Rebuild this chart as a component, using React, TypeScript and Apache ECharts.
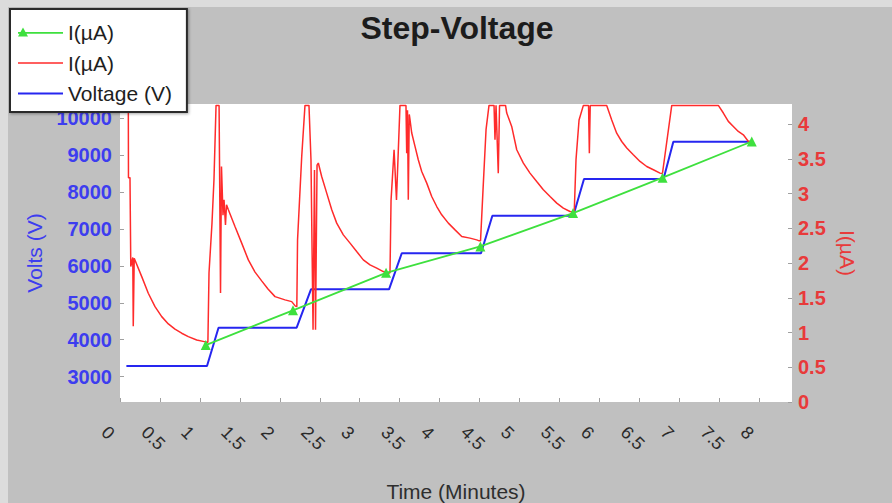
import React, { useEffect, useRef } from "react";
import * as echarts from "echarts";

const timeTicks = [0, 0.5, 1, 1.5, 2, 2.5, 3, 3.5, 4, 4.5, 5, 5.5, 6, 6.5, 7, 7.5, 8];
const voltTicks = [3000, 4000, 5000, 6000, 7000, 8000, 9000, 10000];
const currentTicks = [0, 0.5, 1, 1.5, 2, 2.5, 3, 3.5, 4];

// Voltage (V) step function, [minutes, volts]
const voltagePoints = [
  [0.08, 3290], [1.089, 3290], [1.233, 4326], [2.211, 4326], [2.39, 5365],
  [3.367, 5365], [3.526, 6340], [4.518, 6340], [4.66, 7357], [5.673, 7357],
  [5.807, 8350], [6.802, 8350], [6.925, 9360], [7.89, 9360],
];

// I(µA) sampled at the end of each step (green), [minutes, µA]
const fitPoints = [
  [1.073, 0.82], [2.165, 1.32], [3.33, 1.86], [4.51, 2.24], [5.67, 2.72], [6.79, 3.23], [7.906, 3.75],
];

// I(µA) continuous current (red), [minutes, µA]
const currentPoints = [
  [0.104, 4.27], [0.106, 3.23], [0.125, 3.23], [0.135, 1.95], [0.16, 2.08], [0.166, 1.09], [0.178, 2.07],
  [0.272, 1.805], [0.354, 1.566], [0.438, 1.373], [0.522, 1.229], [0.605, 1.124], [0.688, 1.048],
  [0.772, 0.99], [0.855, 0.941], [0.96, 0.893], [1.055, 0.869], [1.09, 0.86],
  [1.1, 0.86], [1.114, 1.86], [1.151, 2.57], [1.176, 3.2], [1.202, 4.27], [1.24, 4.27], [1.258, 1.57],
  [1.27, 3.39], [1.289, 2.69], [1.302, 2.91], [1.32, 2.55], [1.333, 2.84], [1.355, 2.77],
  [1.439, 2.526], [1.523, 2.287], [1.606, 2.046], [1.69, 1.87], [1.773, 1.744], [1.852, 1.628],
  [1.94, 1.517], [2.065, 1.47], [2.149, 1.445], [2.195, 1.38],
  [2.213, 1.373], [2.222, 2.334], [2.274, 3.53], [2.315, 4.27], [2.365, 4.27], [2.39, 3.49],
  [2.416, 1.04], [2.434, 3.34], [2.447, 1.04], [2.466, 3.41], [2.482, 3.44],
  [2.524, 3.246], [2.587, 3.007], [2.65, 2.767], [2.712, 2.575], [2.795, 2.406], [2.879, 2.287],
  [2.962, 2.166], [3.045, 2.046], [3.129, 1.974], [3.213, 1.927], [3.295, 1.878], [3.355, 1.854],
  [3.379, 1.86], [3.392, 2.9], [3.43, 3.63], [3.46, 2.91], [3.504, 4.27], [3.579, 4.27], [3.588, 3.58],
  [3.598, 4.2], [3.608, 2.91], [3.62, 4.14], [3.63, 4.06],
  [3.651, 3.872], [3.692, 3.679], [3.733, 3.487], [3.776, 3.318], [3.839, 3.151], [3.901, 2.958],
  [3.964, 2.814], [4.026, 2.695], [4.109, 2.575], [4.193, 2.478], [4.277, 2.382], [4.38, 2.359],
  [4.464, 2.334], [4.495, 2.32],
  [4.512, 2.32], [4.543, 3.05], [4.581, 3.92], [4.618, 4.27], [4.681, 4.27], [4.693, 3.775],
  [4.706, 4.27], [4.734, 3.295], [4.75, 4.27], [4.825, 4.27],
  [4.84, 4.16], [4.902, 3.967], [4.965, 3.631], [5.048, 3.44], [5.131, 3.295], [5.215, 3.174],
  [5.298, 3.055], [5.382, 2.958], [5.466, 2.863], [5.548, 2.791], [5.632, 2.742], [5.66, 2.74],
  [5.685, 2.742], [5.707, 3.49], [5.745, 4.06], [5.799, 4.27], [5.864, 4.27], [5.874, 3.58],
  [5.885, 4.27], [6.091, 4.27],
  [6.154, 4.06], [6.216, 3.87], [6.279, 3.75], [6.342, 3.656], [6.424, 3.56], [6.508, 3.463],
  [6.592, 3.39], [6.675, 3.343], [6.758, 3.295], [6.785, 3.29],
  [6.79, 3.3], [6.905, 4.27], [7.488, 4.27],
  [7.551, 4.16], [7.613, 4.04], [7.676, 3.967], [7.738, 3.895], [7.801, 3.847], [7.864, 3.751], [7.9, 3.75],
];

const FONT = "'Liberation Sans', Arial, sans-serif";
const BLUE = "#2626f0";
const RED = "#ff2b2b";
const GREEN = "#3ee03e";
const BLUE_TEXT = "#3d3def";
const RED_TEXT = "#e83a3a";

const ICON_TRI = "path://M0,0L0.01,0Z M0,11L5,2L10,11Z M0,6.5L45,6.5L45,8.2L0,8.2Z M45,14L44.99,14Z";
const ICON_THIN = "path://M0,0L0.01,0Z M0,6.3L45,6.3L45,7.7L0,7.7Z M45,14L44.99,14Z";
const ICON_THICK = "path://M0,0L0.01,0Z M0,6L45,6L45,8L0,8Z M45,14L44.99,14Z";

export default function App() {
  const ref = useRef<HTMLDivElement>(null);

  useEffect(() => {
    if (!ref.current) return;
    const chart = echarts.init(ref.current, null, { renderer: "svg" });
    chart.setOption({
      animation: false,
      backgroundColor: "#c0c0c0",
      title: {
        text: "Step-Voltage",
        left: 444,
        top: 0,
        textAlign: "center",
        textStyle: { fontFamily: FONT, fontSize: 32, fontWeight: "bold", color: "#1c1c1c" },
      },
      legend: {
        orient: "vertical",
        left: 2,
        top: 2,
        padding: [13, 15, 8, 8],
        itemGap: 9.5,
        itemWidth: 45,
        itemHeight: 14,
        selectedMode: false,
        backgroundColor: "#ffffff",
        borderColor: "#2a2a2a",
        borderWidth: 2,
        shadowBlur: 3,
        shadowColor: "rgba(0,0,0,0.35)",
        shadowOffsetX: 1,
        shadowOffsetY: 1,
        textStyle: { fontFamily: FONT, fontSize: 21, lineHeight: 21, color: "#1e1e1e" },
        formatter: (n: string) => (n.indexOf("I(µA)") === 0 ? "I(µA)" : n),
        data: [
          { name: "I(µA) fit", icon: ICON_TRI, itemStyle: { borderWidth: 0 } },
          { name: "I(µA)", icon: ICON_THIN, itemStyle: { borderWidth: 0 } },
          { name: "Voltage (V)", icon: ICON_THICK, itemStyle: { borderWidth: 0 } },
        ],
      },
      grid: {
        left: 112,
        top: 97,
        right: 100,
        bottom: 101,
        show: true,
        backgroundColor: "#ffffff",
        borderWidth: 0,
        containLabel: false,
        outerBoundsMode: "none",
      },
      xAxis: {
        type: "value",
        min: 0,
        max: 8.41,
        name: "Time (Minutes)",
        nameLocation: "middle",
        nameGap: 79,
        nameTextStyle: { fontFamily: FONT, fontSize: 21, color: "#2e2e2e" },
        axisLine: { show: false },
        splitLine: { show: false },
        axisTick: { show: true, inside: true, length: 4, customValues: timeTicks, lineStyle: { color: "#a0a0a0" } },
        axisLabel: {
          customValues: timeTicks,
          rotate: -45,
          align: "left",
          verticalAlign: "top",
          padding: [0, 0, 0, -13],
          margin: 30,
          fontFamily: FONT,
          fontSize: 18,
          color: "#2a2a2a",
          formatter: (v: number) => String(v),
        },
      },
      yAxis: [
        {
          type: "value",
          position: "left",
          min: 2315,
          max: 10380,
          name: "Volts (V)",
          nameLocation: "middle",
          nameGap: 70,
          nameTextStyle: { fontFamily: FONT, fontSize: 21, color: BLUE_TEXT },
          axisLine: { show: false },
          splitLine: { show: false },
          axisTick: { show: true, inside: true, length: 4, customValues: voltTicks, lineStyle: { color: "#a0a0a0" } },
          axisLabel: {
            customValues: voltTicks,
            margin: 8,
            fontFamily: FONT,
            fontSize: 20,
            fontWeight: "bold",
            color: BLUE_TEXT,
            formatter: (v: number) => String(v),
          },
        },
        {
          type: "value",
          position: "right",
          min: 0,
          max: 4.29,
          name: "I(µA)",
          nameLocation: "middle",
          nameRotate: -90,
          nameGap: 42,
          nameTextStyle: { fontFamily: FONT, fontSize: 21, color: RED_TEXT },
          axisLine: { show: false },
          splitLine: { show: false },
          axisTick: { show: true, inside: true, length: 4, customValues: currentTicks, lineStyle: { color: "#a0a0a0" } },
          axisLabel: {
            customValues: currentTicks,
            margin: 6,
            fontFamily: FONT,
            fontSize: 20,
            fontWeight: "bold",
            color: RED_TEXT,
            formatter: (v: number) => String(v),
          },
        },
      ],
      series: [
        {
          name: "Voltage (V)",
          type: "line",
          yAxisIndex: 0,
          data: voltagePoints,
          symbol: "none",
          lineStyle: { color: BLUE, width: 2 },
          itemStyle: { color: BLUE },
          z: 2,
        },
        {
          name: "I(µA)",
          type: "line",
          yAxisIndex: 1,
          data: currentPoints,
          symbol: "none",
          lineStyle: { color: RED, width: 1.5 },
          itemStyle: { color: RED },
          z: 3,
        },
        {
          name: "I(µA) fit",
          type: "line",
          yAxisIndex: 1,
          data: fitPoints,
          symbol: "triangle",
          symbolSize: 10,
          showSymbol: true,
          lineStyle: { color: GREEN, width: 1.8 },
          itemStyle: { color: GREEN },
          z: 4,
        },
      ],
    });
    return () => chart.dispose();
  }, []);

  return (
    <div
      style={{
        position: "fixed",
        left: 0,
        top: 0,
        width: 892,
        height: 503,
        background: "#dcdcdc",
        overflow: "hidden",
      }}
    >
      <div ref={ref} style={{ position: "absolute", left: 8, top: 7, width: 884, height: 496 }} />
    </div>
  );
}
